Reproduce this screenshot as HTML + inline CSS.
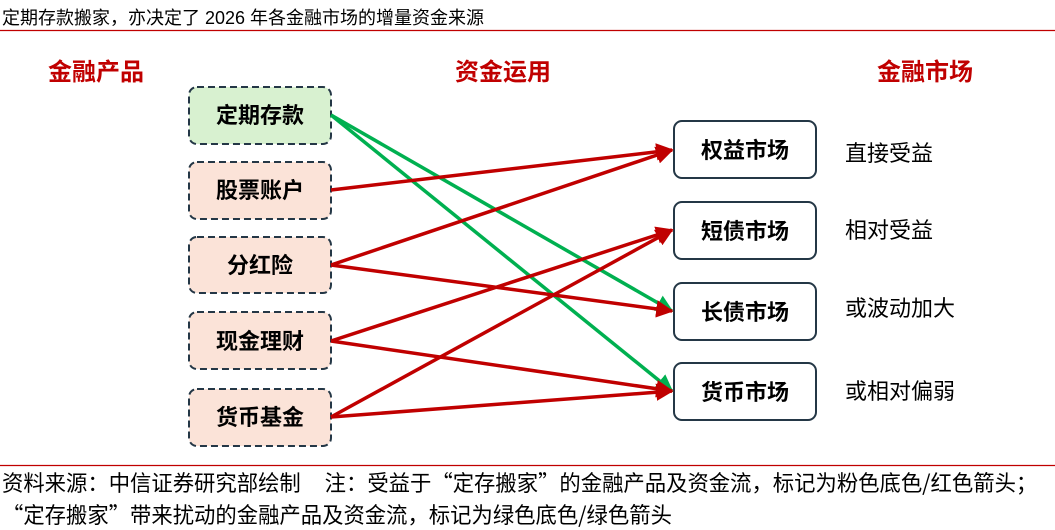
<!DOCTYPE html>
<html><head><meta charset="utf-8"><style>
body{margin:0;width:1055px;height:530px;background:#fff;overflow:hidden;font-family:"Liberation Sans","Noto Sans CJK SC",sans-serif}
svg{position:absolute;left:0;top:0}
.ft{position:absolute;left:2px;font-size:22px;line-height:26px;white-space:nowrap;transform:scaleX(0.97);transform-origin:left center;color:#000;font-family:"Noto Sans CJK SC",sans-serif}
</style></head><body>
<svg width="1055" height="530" xmlns="http://www.w3.org/2000/svg" font-family="Liberation Sans, Noto Sans CJK SC, sans-serif">
<defs>
<marker id="r" viewBox="0 0 10 10" refX="9" refY="5" markerWidth="5" markerHeight="5" orient="auto" markerUnits="strokeWidth"><path d="M0,0L10,5L0,10z" fill="#c00000"/></marker>
<marker id="g" viewBox="0 0 10 10" refX="9" refY="5" markerWidth="5" markerHeight="5" orient="auto" markerUnits="strokeWidth"><path d="M0,0L10,5L0,10z" fill="#00b050"/></marker>
</defs>
<text x="2" y="24" font-size="18">定期存款搬家，亦决定了 2026 年各金融市场的增量资金来源</text>
<line x1="0" y1="30.5" x2="1055" y2="30.5" stroke="#c00000" stroke-width="1.2"/>
<line x1="0" y1="465.5" x2="1055" y2="465.5" stroke="#c00000" stroke-width="1.2"/>
<g font-size="24" font-weight="bold" fill="#c00000" text-anchor="middle">
<text x="96" y="80">金融产品</text><text x="503" y="80">资金运用</text><text x="925" y="80">金融市场</text></g>
<g stroke="#243746" stroke-width="2" stroke-dasharray="7,4">
<rect x="189" y="87" width="142" height="57" rx="8" fill="#d8f1d0"/>
<rect x="189" y="162" width="142" height="57" rx="8" fill="#fbe3d8"/>
<rect x="189" y="237" width="142" height="56" rx="8" fill="#fbe3d8"/>
<rect x="189" y="312" width="142" height="57" rx="8" fill="#fbe3d8"/>
<rect x="189" y="389" width="142" height="57" rx="8" fill="#fbe3d8"/></g>
<g font-size="22" font-weight="bold" text-anchor="middle">
<text x="260" y="123">定期存款</text><text x="260" y="198">股票账户</text><text x="260" y="273">分红险</text><text x="260" y="349">现金理财</text><text x="260" y="425">货币基金</text></g>
<g stroke="#243746" stroke-width="2" fill="#fff">
<rect x="674" y="121" width="142" height="57" rx="8"/>
<rect x="674" y="202" width="142" height="57" rx="8"/>
<rect x="674" y="283" width="142" height="57" rx="8"/>
<rect x="674" y="363" width="142" height="57" rx="8"/></g>
<g font-size="22" font-weight="bold" text-anchor="middle">
<text x="745" y="158">权益市场</text><text x="745" y="239">短债市场</text><text x="745" y="320">长债市场</text><text x="745" y="400">货币市场</text></g>
<g font-size="22"><text x="845" y="161">直接受益</text><text x="845" y="238">相对受益</text><text x="845" y="316">或波动加大</text><text x="845" y="399">或相对偏弱</text></g>
<g stroke-width="3.5" fill="none">
<line x1="331" y1="115" x2="672" y2="311" stroke="#00b050" marker-end="url(#g)"/>
<line x1="331" y1="115" x2="672" y2="391" stroke="#00b050" marker-end="url(#g)"/>
<line x1="331" y1="190" x2="672" y2="150" stroke="#c00000" marker-end="url(#r)"/>
<line x1="331" y1="265" x2="672" y2="150" stroke="#c00000" marker-end="url(#r)"/>
<line x1="331" y1="265" x2="672" y2="311" stroke="#c00000" marker-end="url(#r)"/>
<line x1="331" y1="341" x2="672" y2="230" stroke="#c00000" marker-end="url(#r)"/>
<line x1="331" y1="341" x2="672" y2="391" stroke="#c00000" marker-end="url(#r)"/>
<line x1="331" y1="417" x2="672" y2="230" stroke="#c00000" marker-end="url(#r)"/>
<line x1="331" y1="417" x2="672" y2="391" stroke="#c00000" marker-end="url(#r)"/>
</g>
</svg>
<div class="ft" style="top:469px">资料来源：中信证券研究部绘制&nbsp;&nbsp;&nbsp;&nbsp;&nbsp;注：受益于“定存搬家”的金融产品及资金流，标记为粉色底色/红色箭头；</div>
<div class="ft" style="top:501px">“定存搬家”带来扰动的金融产品及资金流，标记为绿色底色/绿色箭头</div>
</body></html>
